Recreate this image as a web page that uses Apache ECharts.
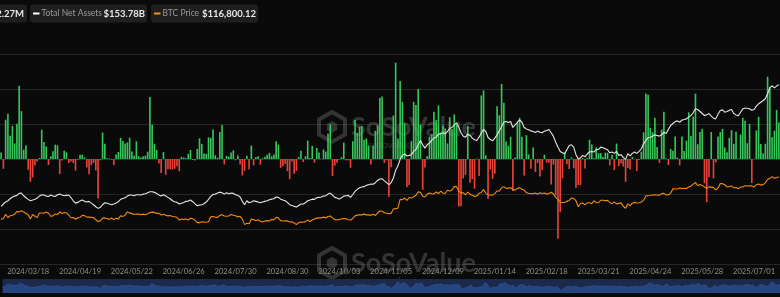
<!DOCTYPE html>
<html><head><meta charset="utf-8">
<script src="https://cdn.jsdelivr.net/npm/echarts@6/dist/echarts.min.js"></script>
<style>html,body{margin:0;padding:0;background:#0a0a0a;}#c{width:780px;height:297px;}</style>
</head><body><div id="c"></div>
<script>
// ---- calendar (US trading days shown on the axis) ----
const startDate = '2024-02-29';
const endDate = '2025-07-17';
const holidays = ['2024-03-29','2024-05-27','2024-06-19','2024-07-04','2024-09-02','2024-11-28','2024-12-25',
  '2025-01-01','2025-01-09','2025-01-20','2025-02-17','2025-04-18','2025-05-26','2025-06-19','2025-07-04'];
const tickLabels = ['2024/03/18','2024/04/19','2024/05/22','2024/06/26','2024/07/30','2024/08/30','2024/10/03',
  '2024/11/05','2024/12/09','2025/01/14','2025/02/18','2025/03/21','2025/04/24','2025/05/28','2025/07/01'];

// ---- Daily Total Net Inflow (US$ M) ----
const netInflow = [
  92,
  -140,562,648,333,473,223,505,1045,684,133,195,-154,-326,-262,-94,-36,15,418,243,179,
  -86,40,110,205,195,-215,-20,120,95,-57,-37,-57,-165,-12,60,62,24,-120,-218,-85,-57,-162,
  -564,-20,378,217,10,8,-10,-85,66,100,303,257,222,237,305,108,48,252,40,20,40,48,
  105,887,488,217,131,-65,-200,100,-226,-145,-146,-152,-140,-105,-174,31,21,12,73,
  129,-14,-20,143,295,216,79,73,310,301,422,53,19,384,486,-78,44,31,92,124,-18,51,
  -80,-237,-168,45,-148,192,-90,28,40,-81,11,33,62,88,39,65,252,203,-127,-105,-72,-175,
  -288,-37,-211,-169,29,117,-43,39,263,13,187,-53,158,92,4,136,106,365,494,-243,
  -95,-54,-10,26,235,-19,-20,-125,254,556,371,458,470,274,294,192,-79,188,402,479,870,893,-55,
  -20,-541,-117,622,1376,294,1114,817,510,-401,-371,255,816,773,1000,490,-438,-123,40,320,
  354,676,556,766,376,479,438,223,597,428,637,493,-680,-672,-277,-226,475,-338,-288,-426,5,
  -242,908,979,52,-569,-149,-284,-209,755,626,1073,803,249,189,318,-458,20,520,588,318,
  -235,341,66,-140,166,-186,-56,-251,-156,60,-50,-55,-365,-80,-516,-1138,-755,-276,94,
  -74,-143,22,-134,-409,-371,-371,13,-136,13,275,209,12,166,83,84,27,90,89,-93,61,
  -158,221,-100,-65,-109,-326,-127,-150,30,2,-171,-10,107,381,936,917,442,381,591,173,-56,
  422,675,10,-86,142,117,321,20,-91,320,115,261,667,329,607,934,211,385,432,-347,-616,
  -262,386,-276,-48,323,386,431,165,95,302,412,216,389,6,350,588,548,226,501,-342,
  2,408,602,216,80,218,1176,1030,309,403,700,522.27
];

// ---- Total Net Assets (US$ B) ----
const totalNetAssets = [
  49.4,51.6,53.1,54.2,55.9,57.4,58.2,58.8,60.5,60.8,58.5,56.8,55.4,54.2,54.8,55.6,56.5,58.2,59.3,59.1,
  58.2,57.9,59.1,58.2,57.9,59.3,59.9,59.1,58.5,58.8,59.1,56.8,54.2,52.2,52.8,53.9,54.8,53.7,53.1,53.7,
  52.2,50.8,49.1,47.7,48.5,50.8,52.5,52.0,51.4,50.8,51.4,52.2,53.4,55.4,56.2,56.8,58.2,59.1,
  59.1,58.5,59.3,59.3,59.1,59.9,60.2,61.1,61.9,61.9,61.4,60.5,59.1,58.2,59.3,58.2,57.1,55.9,54.2,53.4,
  52.8,51.4,52.0,52.8,53.7,53.9,54.8,53.4,51.6,49.9,50.5,50.8,51.6,53.1,55.4,57.9,59.6,59.9,60.8,61.6,
  61.1,59.9,61.1,60.2,60.8,60.5,59.3,58.8,57.4,53.7,50.8,54.2,52.5,53.1,54.2,53.7,53.1,
  52.5,53.1,53.7,54.2,55.1,55.6,55.9,57.4,57.1,55.6,54.8,54.2,52.8,50.8,50.2,49.4,48.8,50.2,51.4,51.4,
  52.5,54.2,54.8,55.6,55.4,56.8,57.1,57.4,58.2,58.5,59.9,60.8,59.1,57.1,56.5,55.6,56.8,58.2,58.5,58.8,
  57.1,59.6,62.2,64.0,65.4,66.0,66.3,67.4,68.0,68.6,68.3,69.7,71.6,72.8,73.1,71.3,69.7,68.0,
  69.7,73.7,80.3,84.0,89.7,93.1,94.3,92.6,93.1,93.7,96.5,98.2,102.2,105.9,102.2,99.3,102.2,103.6,105.9,107.9,
  108.7,111.3,111.9,112.5,111.6,113.6,116.4,117.0,119.3,121.0,117.3,112.5,109.6,108.7,111.3,110.2,107.9,106.5,105.9,108.7,
  112.2,115.4,113.6,108.4,106.7,105.6,107.9,110.7,114.1,117.8,121.5,122.1,121.2,122.1,117.0,119.3,121.5,123.5,
  121.5,117.0,115.8,115.0,114.1,113.6,112.7,113.9,113.0,112.5,113.9,114.4,115.3,112.5,109.4,104.4,100.2,96.5,95.3,94.4,
  98.2,101.6,102.2,99.9,93.7,90.1,91.0,93.1,91.9,94.3,96.0,96.5,96.0,98.2,98.2,100.2,99.6,98.8,97.9,95.3,
  96.0,94.8,96.5,93.1,93.7,91.4,89.7,94.6,92.6,94.8,96.0,94.8,96.5,98.8,103.0,105.9,108.4,
  108.7,109.6,110.7,110.2,109.6,110.7,113.0,111.9,115.4,118.7,120.4,122.1,122.7,121.5,123.3,123.8,124.4,126.1,127.3,129.6,
  133.0,132.4,130.7,129.0,127.3,127.8,129.0,126.7,125.0,124.4,128.4,131.5,132.1,130.1,130.7,131.8,132.4,129.0,127.8,127.0,
  130.1,133.0,133.5,133.5,133.0,131.8,132.4,135.3,137.3,138.7,140.1,141.6,145.9,151.2,152.7,151.0,152.5,153.78
];

// ---- BTC Price (US$) ----
const btcPrice = [
  61200,
  62400,68300,63800,66100,66900,68300,72100,71500,73100,71400,69500,67600,61900,67900,65500,63800,69900,69900,69500,71300,
  69700,65500,66000,68500,67800,71600,69100,70600,70000,67100,63400,63800,61300,63500,63800,66800,66400,64300,64500,64000,63400,60600,
  58300,59100,62900,63200,62300,61200,63100,60800,62900,61600,66300,65200,67000,71400,70100,69100,67900,68500,68400,67600,68400,67500,
  68800,70600,71100,70800,69400,69500,67300,68200,66800,66000,66500,65200,64900,64100,60300,61800,60900,61600,60300,
  62700,62000,60200,56700,56700,58000,57700,57300,57900,64800,65100,64100,63900,66700,67600,65900,65400,65800,68000,66800,66200,64600,
  65400,61500,54000,56000,55100,61700,60900,59400,60600,58700,57500,59000,59500,59000,61200,60400,64100,62900,59500,59000,59400,59100,
  57500,58000,56200,54000,57000,57600,57300,58100,60600,58200,60300,61800,62900,63200,63300,64300,63100,65200,65800,63300,
  60800,60600,60800,62100,62200,62100,60600,60300,62400,66000,67000,67600,67400,68400,67400,67400,66700,68200,66600,69900,72700,72300,70200,
  69500,68800,69400,75600,76000,76500,88700,88000,90500,87300,91100,90500,92300,94300,98900,98400,93000,91900,95900,97500,
  95900,96000,98800,96600,99900,97400,96700,101200,100000,101500,106100,106100,100000,97500,97800,94700,98700,95800,94200,92600,93400,
  97000,98100,102100,96900,95000,94700,94500,96500,100500,99800,104500,106100,103700,104000,104700,102000,101300,103700,104700,102400,
  101400,97900,96600,96600,96500,97400,95700,97800,96600,97500,95800,96600,98300,96100,91400,88700,84700,84400,84400,
  86200,87200,90600,89900,86700,78500,82900,83700,81100,83900,84000,82700,86800,84200,84000,87500,87400,86900,87200,84400,82500,
  85200,82500,83100,83800,79200,76300,82600,79600,83400,84500,83700,84000,84900,87500,93400,93700,93900,94700,95000,94300,94200,
  96500,96900,94700,94800,97000,103200,102900,102800,104100,103500,103700,103500,105600,106800,109600,111700,107300,108900,107800,105600,103900,
  105800,105400,104700,101500,104300,110300,110200,108700,105900,105900,107100,104500,104800,103300,105400,106000,107300,106900,107100,107100,
  105700,108800,109600,108200,108900,111300,115900,117500,119800,117700,118700,119300
];

function tradingDays() {
  const out = [];
  const d = new Date(startDate + 'T00:00:00Z');
  const end = new Date(endDate + 'T00:00:00Z');
  while (d <= end) {
    const wd = d.getUTCDay();
    const iso = d.toISOString().slice(0, 10);
    if (wd !== 0 && wd !== 6 && holidays.indexOf(iso) < 0) out.push(iso.replace(/-/g, '/'));
    d.setUTCDate(d.getUTCDate() + 1);
  }
  return out;
}
const categories = tradingDays();
const tickSet = new Set(tickLabels);

const FONT = 'Lato, "Noto Sans", sans-serif';
const GREEN = '#35c759', RED = '#e8443a';

function hexLogo(cx, cy, r) {
  const pts = [];
  for (let k = 0; k < 6; k++) {
    const a = Math.PI / 180 * (60 * k - 90);
    pts.push([cx + r * Math.cos(a), cy + r * Math.sin(a)]);
  }
  return pts;
}
function watermark(y0) {
  const col = 'rgba(120,120,120,0.38)';
  return [
    { type: 'polygon', shape: { points: hexLogo(332, y0 + 14, 15) }, style: { fill: 'none', stroke: col, lineWidth: 4 }, silent: true, z: 1 },
    { type: 'polygon', shape: { points: hexLogo(332, y0 + 14, 6) }, style: { fill: col }, silent: true, z: 1 },
    { type: 'text', x: 351, y: y0 + 1, style: { text: 'SoSoValue', fill: col, font: 'bold 27px ' + FONT }, silent: true, z: 1 },
    { type: 'text', x: 368, y: y0 + 27, style: { text: 'sosovalue.com', fill: col, font: '10px ' + FONT }, silent: true, z: 1 }
  ];
}
function pill(x, w, dashColor, label, value, firstItem) {
  const els = [{ type: 'rect', shape: { x: x, y: 4.5, width: w, height: 18, r: 3 }, style: { fill: '#1f1f1f' }, z: 10 }];
  if (firstItem) {
    els.push({ type: 'text', x: x + w - 3, y: 13.5, style: { text: value, fill: '#e8e8e8', font: 'bold 9.5px ' + FONT, align: 'right', verticalAlign: 'middle' }, z: 11 });
    els.push({ type: 'text', x: x + w - 46, y: 13.5, style: { text: label, fill: '#9a9a9a', font: '8.5px ' + FONT, align: 'right', verticalAlign: 'middle' }, z: 11 });
  } else {
    els.push({ type: 'rect', shape: { x: x + 3, y: 12.5, width: 6.5, height: 2 }, style: { fill: dashColor }, z: 11 });
    els.push({ type: 'text', x: x + 11.5, y: 13.5, style: { text: label, fill: '#9a9a9a', font: '8.5px ' + FONT, verticalAlign: 'middle' }, z: 11 });
    els.push({ type: 'text', x: x + w - 2, y: 13.5, style: { text: value, fill: '#e8e8e8', font: 'bold 9.5px ' + FONT, align: 'right', verticalAlign: 'middle' }, z: 11 });
  }
  return els;
}

const chart = echarts.init(document.getElementById('c'), null, { renderer: 'canvas' });
chart.setOption({
  backgroundColor: '#0a0a0a',
  animation: false,
  grid: { left: 0, right: 0, top: 54, height: 210, containLabel: false },
  graphic: [].concat(
    watermark(113), watermark(249),
    pill(-120, 147, GREEN, 'Daily Total Net Inflow', '$522.27M', true),
    pill(30, 117, '#ffffff', 'Total Net Assets', '$153.78B'),
    pill(151, 107, '#f7931a', 'BTC Price', '$116,800.12')
  ),
  xAxis: {
    type: 'category', data: categories, boundaryGap: true,
    axisLine: { show: true, lineStyle: { color: '#2e2e2e' } },
    axisTick: { show: false },
    axisLabel: {
      interval: (idx, val) => tickSet.has(val),
      color: '#8f8f8f', fontSize: 7.6, fontFamily: FONT, margin: 3.5,
      hideOverlap: false, showMinLabel: true, showMaxLabel: true
    },
    splitLine: { show: false }
  },
  yAxis: [
    { type: 'value', min: -1500, max: 1500, interval: 500, axisLabel: { show: false }, axisLine: { show: false }, axisTick: { show: false },
      splitLine: { show: true, lineStyle: { color: '#262626', width: 1 } } },
    { type: 'value', min: 0, max: 180, interval: 30, show: false, splitLine: { show: false } },
    { type: 'value', min: 0, max: 288000, show: false, splitLine: { show: false } }
  ],
  dataZoom: [{
    type: 'slider', xAxisIndex: 0, start: 0, end: 100, filterMode: 'none',
    left: 0, right: 0, top: 279, height: 14,
    showDetail: false, brushSelect: false, moveHandleSize: 0, handleSize: 0,
    handleStyle: { opacity: 0 }, borderColor: 'transparent',
    backgroundColor: '#141c2e', fillerColor: 'rgba(40,70,130,0.35)',
    dataBackground: { lineStyle: { color: '#3c63ad', width: 0.6, opacity: 1 }, areaStyle: { color: '#24457f', opacity: 1 } },
    selectedDataBackground: { lineStyle: { color: '#3c63ad', width: 0.6, opacity: 1 }, areaStyle: { color: '#24457f', opacity: 1 } },
    textStyle: { color: 'transparent' }
  }],
  series: [
    { name: 'Daily Total Net Inflow', type: 'bar', yAxisIndex: 0, data: netInflow, barWidth: '72%',
      itemStyle: { color: p => (p.value >= 0 ? GREEN : RED) }, z: 2 },
    { name: 'Total Net Assets', type: 'line', yAxisIndex: 1, data: totalNetAssets, symbol: 'none',
      lineStyle: { color: '#e6e6e6', width: 1.1 }, itemStyle: { color: '#e6e6e6' }, z: 4 },
    { name: 'BTC Price', type: 'line', yAxisIndex: 2, data: btcPrice, symbol: 'none',
      lineStyle: { color: '#f08a12', width: 1.1 }, itemStyle: { color: '#f08a12' }, z: 3 }
  ]
});
</script>
</body></html>
